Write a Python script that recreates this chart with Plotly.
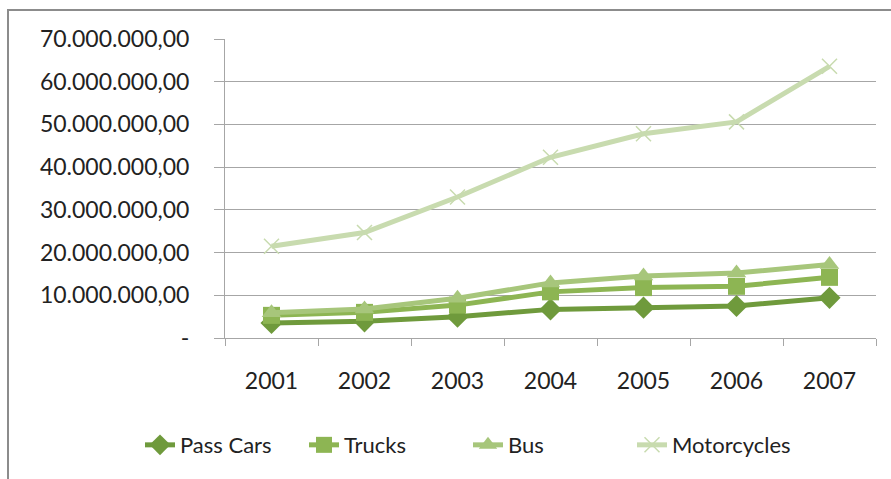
import plotly.graph_objects as go

years = ["2001", "2002", "2003", "2004", "2005", "2006", "2007"]
pass_cars = [3.5e6, 3.9e6, 5.0e6, 6.7e6, 7.1e6, 7.5e6, 9.4e6]
trucks = [5.3e6, 6.0e6, 7.7e6, 10.8e6, 11.8e6, 12.1e6, 14.2e6]
bus = [5.9e6, 6.8e6, 9.3e6, 12.9e6, 14.5e6, 15.2e6, 17.2e6]
motorcycles = [21.5e6, 24.7e6, 33.0e6, 42.3e6, 47.8e6, 50.6e6, 63.6e6]

y_tickvals = [0, 10e6, 20e6, 30e6, 40e6, 50e6, 60e6, 70e6]
y_ticktext = ["-", "10.000.000,00", "20.000.000,00", "30.000.000,00",
              "40.000.000,00", "50.000.000,00", "60.000.000,00", "70.000.000,00"]

series = [
    ("Pass Cars", pass_cars, "#6f9a3c", "diamond", 17),
    ("Trucks", trucks, "#8db553", "square", 17),
    ("Bus", bus, "#a7c67b", "triangle-up", 17),
    ("Motorcycles", motorcycles, "#c8dbaf", "x-thin", 15),
]

fig = go.Figure()
for name, vals, color, sym, size in series:
    marker = dict(symbol=sym, size=size, color=color)
    if sym == "x-thin":
        marker["line"] = dict(color=color, width=1.5)
    fig.add_trace(go.Scatter(
        x=years, y=vals, name=name, mode="lines+markers",
        line=dict(color=color, width=5),
        marker=marker,
    ))

font_family = "Lato, 'Open Sans', sans-serif"
fig.update_layout(
    width=891, height=479,
    margin=dict(l=225, r=15, t=39, b=141),
    paper_bgcolor="white", plot_bgcolor="white",
    font=dict(family=font_family, size=22, color="#222222"),
    showlegend=True,
    legend=dict(orientation="h", x=(140 - 225) / 651, xanchor="left", y=-0.358, yanchor="middle",
                font=dict(size=22, color="#222222"), entrywidth=119, entrywidthmode="pixels",
                bgcolor="rgba(0,0,0,0)"),
    xaxis=dict(
        type="category", showgrid=False, showline=True, linecolor="#a6a6a6", linewidth=1,
        ticks="outside", tickson="boundaries", ticklen=7, tickcolor="#a6a6a6",
        tickfont=dict(size=23, color="#222222"), ticklabelstandoff=22,
        range=[-0.5, 6.5], zeroline=False,
    ),
    yaxis=dict(
        range=[0, 70e6], tickvals=y_tickvals, ticktext=y_ticktext,
        showgrid=True, gridcolor="#a6a6a6", gridwidth=1,
        showline=True, linecolor="#a6a6a6", linewidth=1,
        ticks="outside", ticklen=10, tickcolor="#a6a6a6",
        tickfont=dict(size=23, color="#222222"), ticklabelstandoff=20,
        zeroline=False,
    ),
    shapes=[dict(type="rect", xref="paper", yref="paper",
                 x0=(8 - 225) / 651, x1=3, y0=-3, y1=(338 - 10) / 299,
                 line=dict(color="#8c8c8c", width=2), fillcolor="rgba(0,0,0,0)", layer="below")],
)

fig.write_html("out.html")
